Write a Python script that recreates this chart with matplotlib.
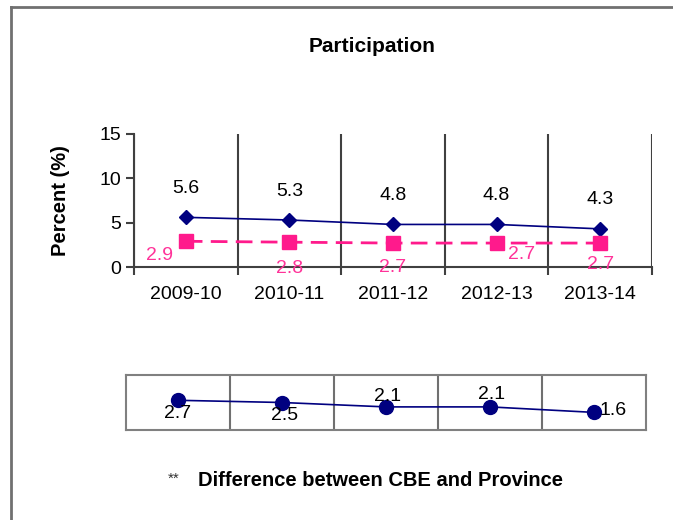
import numpy as np
import matplotlib
matplotlib.use("Agg")
import matplotlib.pyplot as plt
from matplotlib.lines import Line2D

plt.rcParams['font.family'] = ['Liberation Sans', 'DejaVu Sans']

# data
years = ["2009-10", "2010-11", "2011-12", "2012-13", "2013-14"]
cbe = [5.6, 5.3, 4.8, 4.8, 4.3]
province = [2.9, 2.8, 2.7, 2.7, 2.7]
difference = [2.7, 2.5, 2.1, 2.1, 1.6]

# label offsets in pixels (how the labels sit in the original)
prov_offsets = [(-26, -14), (0, -26), (0, -24), (25, -11), (0, -21)]
diff_offsets = [(0, -13), (3, -13), (2, 10), (2, 12), (19, 2)]

blue = "#000080"
pink = "#ff1a8c"
pink_txt = "#ff3399"
grid_col = "#404040"

fig = plt.figure(figsize=(6.73, 5.2), dpi=100)
px = 0.72  # points per pixel at 100 dpi

# outer frame, only top and left are visible in the crop
fig.add_artist(Line2D([11 / 673, 11 / 673], [0, 1 - 7 / 520], transform=fig.transFigure, color="#707070", lw=2))
fig.add_artist(Line2D([11 / 673, 1], [1 - 7 / 520, 1 - 7 / 520], transform=fig.transFigure, color="#707070", lw=2))

fig.text(372 / 673, 1 - 46 / 520, "Participation", ha="center", va="center", fontsize=15, fontweight="bold")

x = np.arange(len(years))
bounds = x + 0.5

# top chart
ax = fig.add_axes([134 / 673, 1 - 267 / 520, 518 / 673, 133 / 520])
ax.plot(x, cbe, color=blue, lw=1.2, marker="D", markersize=7.5, zorder=3)
ax.plot(x, province, color=pink, lw=2, ls=(0, (6, 3)), marker="s", markersize=10, zorder=3)
ax.set_xlim(-0.5, 4.5)
ax.set_ylim(0, 15)
ax.set_yticks([0, 5, 10, 15])
ax.set_xticks(x)
ax.set_xticklabels(years)
ax.set_xticks(np.concatenate([[-0.5], bounds]), minor=True)
ax.tick_params(axis="x", which="major", length=0, labelsize=14, pad=14)
ax.tick_params(axis="x", which="minor", length=6, color=grid_col, width=1.5)
ax.tick_params(axis="y", length=6, labelsize=14, color=grid_col, width=1.5)
ax.grid(axis="x", which="minor", color=grid_col, lw=1.5)
ax.spines["top"].set_visible(False)
ax.spines["right"].set_visible(False)
ax.spines["left"].set_color(grid_col)
ax.spines["bottom"].set_color(grid_col)
ax.spines["left"].set_linewidth(1.5)
ax.spines["bottom"].set_linewidth(1.5)
ax.set_ylabel("Percent (%)", fontsize=14.5, fontweight="bold", labelpad=21)

for i, v in enumerate(cbe):
    ax.annotate(f"{v}", (x[i], v), xytext=(0, 29 * px), textcoords="offset points",
                ha="center", va="center", fontsize=14)
for i, v in enumerate(province):
    dx, dy = prov_offsets[i]
    ax.annotate(f"{v}", (x[i], v), xytext=(dx * px, dy * px), textcoords="offset points",
                ha="center", va="center", fontsize=14, color=pink_txt)

# bottom strip with the difference
ax2 = fig.add_axes([126 / 673, 1 - 430 / 520, 520 / 673, 55 / 520])
ax2.plot(x, difference, color=blue, lw=1.2, marker="o", markersize=10, zorder=3)
ax2.set_xlim(-0.5, 4.5)
ax2.set_ylim(0, 5)
ax2.set_xticks(bounds[:-1], minor=False)
ax2.tick_params(length=0, labelbottom=False, labelleft=False)
ax2.set_yticks([])
ax2.grid(axis="x", color="#707070", lw=1.5)
for s in ax2.spines.values():
    s.set_color("#808080")
    s.set_linewidth(1.5)
for i, v in enumerate(difference):
    dx, dy = diff_offsets[i]
    ax2.annotate(f"{v}", (x[i], v), xytext=(dx * px, dy * px), textcoords="offset points",
                 ha="center", va="center", fontsize=14, zorder=4)

fig.text(168 / 673, 1 - 479 / 520, "**", ha="left", va="center", fontsize=11, color="#333333")
fig.text(198 / 673, 1 - 480 / 520, "Difference between CBE and Province", ha="left", va="center",
         fontsize=14.5, fontweight="bold")

fig.savefig("out.png", dpi=100)
